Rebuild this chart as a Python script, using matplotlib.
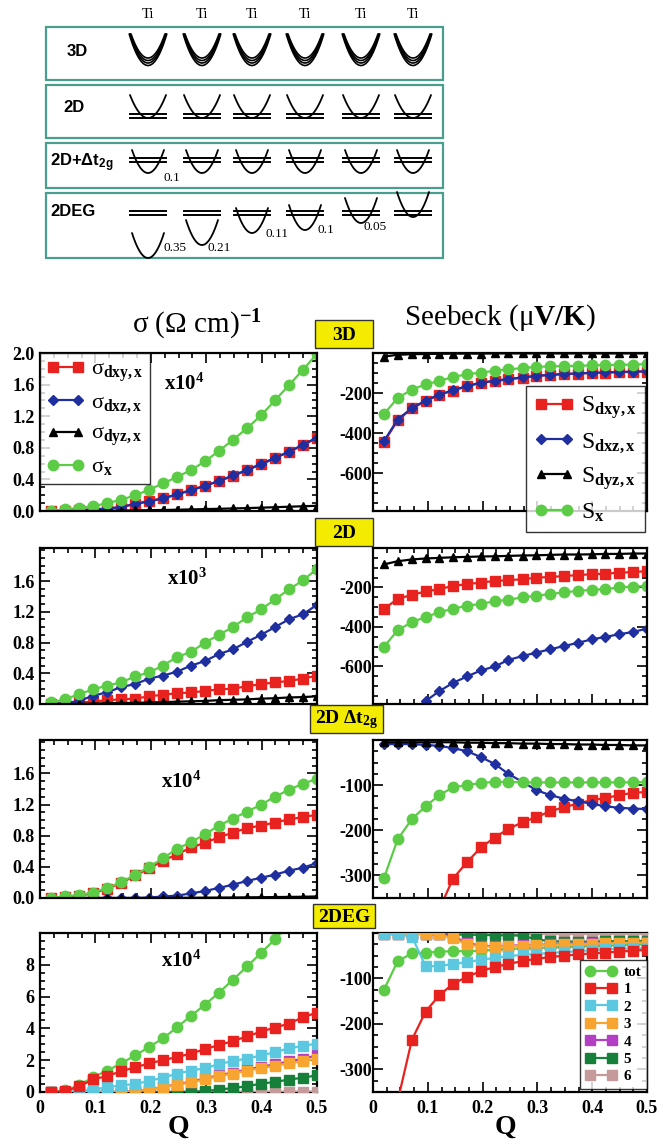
import numpy as np
import matplotlib
matplotlib.use('Agg')
import matplotlib.pyplot as plt
from matplotlib.patches import Rectangle
from matplotlib.ticker import MultipleLocator

plt.rcParams['font.family'] = ['Liberation Serif', 'DejaVu Serif']
plt.rcParams['mathtext.fontset'] = 'custom'
plt.rcParams['mathtext.rm'] = 'Liberation Serif'
plt.rcParams['mathtext.it'] = 'Liberation Serif:italic'
plt.rcParams['mathtext.bf'] = 'Liberation Serif:bold'
plt.rcParams['mathtext.sf'] = 'Liberation Sans:bold'

# ---------------- data ----------------
Q = [0.020, 0.045, 0.071, 0.096, 0.121, 0.146, 0.172, 0.197, 0.222, 0.247,
     0.273, 0.298, 0.323, 0.348, 0.374, 0.399, 0.424, 0.449, 0.475, 0.500]

# 3D conductivity (x1e4)
s3_dxy = [0.0, 0.0, 0.01, 0.02, 0.03, 0.05, 0.09, 0.13, 0.16, 0.21, 0.27, 0.32, 0.38, 0.44, 0.52, 0.60, 0.67, 0.75, 0.83, 0.93]
s3_dxz = [0.0, 0.0, 0.01, 0.02, 0.03, 0.05, 0.09, 0.12, 0.16, 0.21, 0.26, 0.32, 0.38, 0.45, 0.52, 0.59, 0.67, 0.75, 0.84, 0.93]
s3_dyz = [0.0, 0.0, 0.0, 0.0, 0.003, 0.005, 0.008, 0.01, 0.013, 0.016, 0.02, 0.024, 0.028, 0.032, 0.037, 0.042, 0.048, 0.054, 0.06, 0.066]
s3_x = [0.0, 0.02, 0.04, 0.06, 0.10, 0.14, 0.20, 0.27, 0.35, 0.43, 0.52, 0.63, 0.76, 0.90, 1.05, 1.21, 1.40, 1.59, 1.79, 1.99]
# 3D Seebeck
S3_dxy = [-447, -336, -277, -240, -209, -188, -166, -149, -140, -132, -123, -115, -110, -106, -103, -100, -98, -96, -94, -93]
S3_dxz = [-440, -333, -275, -238, -208, -186, -165, -148, -139, -130, -122, -114, -109, -105, -102, -99, -97, -95, -93, -92]
S3_dyz = [-18, -9, -6, -5, -4, -3, -3, -3, -2, -2, -2, -2, -2, -2, -2, -2, -2, -2, -2, -2]
S3_x = [-305, -225, -183, -157, -140, -120, -106, -98, -89, -81, -76, -69, -67, -65, -64, -62, -60, -59, -58, -55]

# 2D conductivity (x1e3)
s2_dxy = [0.0, 0.01, 0.02, 0.03, 0.05, 0.06, 0.07, 0.10, 0.12, 0.14, 0.15, 0.17, 0.19, 0.20, 0.23, 0.26, 0.28, 0.30, 0.33, 0.37]
s2_dxz = [0.0, 0.01, 0.04, 0.11, 0.15, 0.22, 0.26, 0.33, 0.37, 0.42, 0.50, 0.56, 0.65, 0.71, 0.81, 0.90, 1.00, 1.10, 1.17, 1.29]
s2_dyz = [0.0, 0.0, 0.0, 0.005, 0.01, 0.012, 0.015, 0.02, 0.025, 0.03, 0.035, 0.04, 0.05, 0.055, 0.06, 0.07, 0.075, 0.085, 0.09, 0.10]
s2_x = [0.02, 0.06, 0.13, 0.19, 0.24, 0.28, 0.36, 0.41, 0.50, 0.61, 0.68, 0.80, 0.90, 1.00, 1.13, 1.23, 1.36, 1.49, 1.61, 1.76]
# 2D Seebeck
S2_dxy = [-308, -258, -237, -220, -208, -192, -183, -175, -167, -163, -158, -150, -147, -142, -137, -133, -130, -125, -122, -117]
S2_dxz = [-2200, -1600, -1150, -775, -725, -683, -650, -620, -600, -567, -547, -530, -513, -497, -480, -463, -450, -437, -425, -408]
S2_dyz = [-83, -67, -58, -53, -50, -47, -45, -43, -42, -40, -38, -37, -35, -33, -33, -32, -30, -30, -28, -28]
S2_x = [-500, -417, -375, -350, -325, -308, -292, -283, -270, -262, -250, -242, -233, -225, -217, -212, -208, -200, -195, -192]

# 2D + delta t2g conductivity (x1e4)
sd_dxy = [0.0, 0.01, 0.03, 0.06, 0.12, 0.19, 0.29, 0.38, 0.48, 0.56, 0.65, 0.71, 0.78, 0.84, 0.90, 0.93, 0.97, 1.01, 1.04, 1.07]
sd_dxz = [0.0, 0.0, 0.0, 0.0, 0.0, 0.0, 0.0, 0.005, 0.02, 0.03, 0.06, 0.09, 0.13, 0.17, 0.22, 0.26, 0.30, 0.35, 0.39, 0.45]
sd_dyz = [0.0, 0.0, 0.0, 0.0, 0.0, 0.0, 0.0, 0.0, 0.0, 0.002, 0.003, 0.004, 0.005, 0.006, 0.008, 0.01, 0.012, 0.014, 0.016, 0.02]
sd_x = [0.0, 0.02, 0.04, 0.07, 0.13, 0.20, 0.30, 0.40, 0.51, 0.63, 0.72, 0.82, 0.93, 1.02, 1.11, 1.20, 1.30, 1.39, 1.47, 1.53]
# 2D + delta t2g Seebeck
Sd_dxy = [-1400, -1000, -700, -500, -375, -307, -270, -238, -216, -197, -182, -171, -158, -149, -141, -133, -129, -122, -117, -115]
Sd_dxz = [-9, -9, -9, -11, -13, -18, -25, -38, -53, -75, -93, -111, -122, -130, -136, -141, -147, -150, -152, -153]
Sd_dyz = [-5, -5, -5, -5, -5, -5, -6, -6, -7, -7, -8, -8, -9, -9, -10, -10, -11, -11, -12, -12]
Sd_x = [-306, -220, -175, -147, -122, -105, -100, -95, -93, -93, -94, -94, -94, -94, -94, -94, -94, -94, -94, -93]

# 2DEG conductivity (x1e4), per subband
sg_tot = [0.0, 0.1, 0.42, 0.95, 1.33, 1.8, 2.3, 2.84, 3.37, 4.06, 4.8, 5.5, 6.25, 7.05, 7.9, 8.75, 9.6, 10.5, 11.4, 12.3]
sg_1 = [0.0, 0.05, 0.35, 0.8, 1.0, 1.3, 1.55, 1.8, 2.0, 2.2, 2.42, 2.7, 2.95, 3.2, 3.5, 3.8, 4.05, 4.3, 4.7, 5.0]
sg_2 = [0.0, 0.0, 0.05, 0.15, 0.3, 0.42, 0.5, 0.7, 0.9, 1.15, 1.35, 1.5, 1.75, 1.95, 2.1, 2.3, 2.5, 2.75, 2.9, 3.05]
sg_3 = [0, 0, 0, 0, 0, 0, 0.05, 0.15, 0.3, 0.45, 0.6, 0.8, 1.0, 1.15, 1.35, 1.5, 1.65, 1.8, 1.95, 2.1]
sg_4 = [0, 0, 0, 0, 0, 0, 0.05, 0.15, 0.32, 0.48, 0.65, 0.85, 1.05, 1.22, 1.42, 1.58, 1.75, 1.92, 2.1, 2.3]
sg_5 = [0, 0, 0, 0, 0, 0, 0, 0, 0, 0, 0.02, 0.06, 0.15, 0.25, 0.36, 0.53, 0.63, 0.78, 0.9, 1.05]
sg_6 = [0, 0, 0, 0, 0, 0, 0, 0, 0, 0, 0, 0, 0, 0, 0, 0, 0.01, 0.01, 0.02, 0.02]
# 2DEG Seebeck
Sg_tot = [-125, -62, -45, -43, -41, -40, -40, -39, -37, -35, -34, -33, -32, -31, -30, -29, -28, -27, -26, -25]
Sg_1 = [-700, -370, -235, -173, -137, -112, -96, -84, -75, -68, -62, -57, -53, -50, -47, -45, -43, -41, -39, -37]
Sg_2 = [-3, -3, -8, -73, -73, -68, -64, -59, -55, -51, -48, -46, -44, -42, -40, -38, -36, -35, -34, -33]
Sg_3 = [-2, -2, -2, -2, -3, -12, -25, -30, -30, -29, -28, -27, -26, -25, -25, -24, -23, -22, -22, -21]
Sg_4 = [-2, -2, -2, -2, -3, -8, -22, -28, -29, -28, -27, -26, -25, -24, -24, -23, -22, -21, -21, -20]
Sg_5 = [-1, -1, -1, -2, -3, -3, -4, -4, -5, -5, -6, -14, -18, -19, -19, -19, -18, -18, -18, -17]
Sg_6 = [-2, -2, -2, -2, -2, -2, -2, -2, -2, -2, -2, -2, -2, -2, -2, -2, -2, -2, -2, -2]

# schematic: Ti sites and 2DEG subband depths
ti_labels = ['Ti', 'Ti', 'Ti', 'Ti', 'Ti', 'Ti']
row_names = ['3D', '2D', '2D+\u0394t$_{\\mathsf{2g}}$', '2DEG']
delta_labels = ['0.1']
deg_labels = ['0.35', '0.21', '0.11', '0.1', '0.05', '']
deg_depth_px = [45, 32, 20, 17, 10, 4]

panel_tags = ['3D', '2D', '2D \u0394t$_{\\mathbf{2g}}$', '2DEG']
scales = ['x10$^{\\mathbf{4}}$', 'x10$^{\\mathbf{3}}$', 'x10$^{\\mathbf{4}}$', 'x10$^{\\mathbf{4}}$']

# ---------------- styles ----------------
RED, BLUE, GREEN = '#e8221e', '#1f2fa0', '#5ccc47'
CYAN, ORANGE, MAG, DGREEN, BROWN = '#5bc8e0', '#f7a430', '#b23fc4', '#16803a', '#c49a9a'
sty = {
    'dxy': dict(marker='s', color=RED, ms=6.5, lw=1.6),
    'dxz': dict(marker='D', color=BLUE, ms=5.2, lw=1.6),
    'dyz': dict(marker='^', color='k', ms=6, lw=1.6),
    'x': dict(marker='o', color=GREEN, ms=7.5, lw=1.6),
}

fig = plt.figure(figsize=(6.6, 11.44), dpi=100)

W, H = 660.0, 1144.0
rows_px = [(353, 511), (548, 704), (740, 898), (933, 1092)]
lx, lw_ = 40, 277
rx, rw_ = 373, 274


def add(xp, wp, top, bot):
    return fig.add_axes([xp / W, 1 - bot / H, wp / W, (bot - top) / H])


def style(ax, ylim, yt, yl, ymin, pad, bottom):
    ax.set_xlim(0, 0.5)
    ax.set_ylim(*ylim)
    if bottom:
        ax.set_xticks([0, 0.1, 0.2, 0.3, 0.4, 0.5], ['0', '0.1', '0.2', '0.3', '0.4', '0.5'],
                      fontweight='bold', fontsize=13)
    else:
        ax.set_xticks([0, 0.1, 0.2, 0.3, 0.4, 0.5])
        ax.tick_params(labelbottom=False)
    ax.xaxis.set_minor_locator(MultipleLocator(0.025))
    ax.set_yticks(yt, yl, fontweight='bold', fontsize=13)
    ax.yaxis.set_minor_locator(MultipleLocator(ymin))
    ax.tick_params(which='both', direction='in', top=True, right=True, width=1.2)
    ax.tick_params(which='major', length=7)
    ax.tick_params(which='minor', length=3.5)
    ax.tick_params(axis='y', pad=pad)
    ax.tick_params(axis='x', pad=6)
    for sp in ax.spines.values():
        sp.set_linewidth(1.6)


def legend(ax, **kw):
    leg = ax.legend(numpoints=2, frameon=True, fancybox=False, edgecolor='k',
                    borderaxespad=0, **kw)
    leg.get_frame().set_linewidth(1.0)
    leg.set_zorder(20)
    return leg


left_sets = [(s3_dxy, s3_dxz, s3_dyz, s3_x), (s2_dxy, s2_dxz, s2_dyz, s2_x),
             (sd_dxy, sd_dxz, sd_dyz, sd_x)]
right_sets = [(S3_dxy, S3_dxz, S3_dyz, S3_x), (S2_dxy, S2_dxz, S2_dyz, S2_x),
              (Sd_dxy, Sd_dxz, Sd_dyz, Sd_x)]
scale_pos = [(0.52, 0.80), (0.53, 0.80), (0.51, 0.73), (0.51, 0.82)]

lt = [0, 0.4, 0.8, 1.2, 1.6]
ll = ['0.0', '0.4', '0.8', '1.2', '1.6']
axes_l, axes_r = [], []
for i in range(3):
    top, bot = rows_px[i]
    axl = add(lx, lw_, top, bot)
    axr = add(rx, rw_, top, bot)
    axes_l.append(axl)
    axes_r.append(axr)
    d = left_sets[i]
    names_l = ['\u03c3$_{\\mathbf{dxy,x}}$', '\u03c3$_{\\mathbf{dxz,x}}$',
               '\u03c3$_{\\mathbf{dyz,x}}$', '\u03c3$_{\\mathbf{x}}$']
    names_r = ['S$_{\\mathbf{dxy,x}}$', 'S$_{\\mathbf{dxz,x}}$',
               'S$_{\\mathbf{dyz,x}}$', 'S$_{\\mathbf{x}}$']
    for key, vals, nm in zip(['dxy', 'dxz', 'dyz', 'x'], d, names_l):
        axl.plot(Q, vals, label=nm, **sty[key])
    for key, vals, nm in zip(['dxy', 'dxz', 'dyz', 'x'], right_sets[i], names_r):
        axr.plot(Q, vals, label=nm, **sty[key])
    if i == 0:
        style(axl, (0, 2.0), lt + [2.0], ll + ['2.0'], 0.1, 4, False)
    else:
        style(axl, (0, 2.03), lt, ll, 0.1, 4, False)
    if i < 2:
        style(axr, (-790, 0), [-600, -400, -200], ['-600', '-400', '-200'], 50, 1, False)
    else:
        style(axr, (-350, 0), [-300, -200, -100], ['-300', '-200', '-100'], 25, 1, False)
    axl.text(*scale_pos[i], scales[i], transform=axl.transAxes, ha='center', va='center',
             fontsize=15, fontweight='bold')

legend(axes_l[0], loc='upper left', bbox_to_anchor=(0, 1), fontsize=16,
       handlelength=1.7, labelspacing=0.38, borderpad=0.3, handletextpad=0.3)
legend(axes_r[0], loc='upper right', bbox_to_anchor=(0.993, 0.79), fontsize=17,
       handlelength=1.7, labelspacing=0.42, borderpad=0.35, handletextpad=0.3)

# 2DEG row
top, bot = rows_px[3]
axl = add(lx, lw_, top, bot)
axr = add(rx, rw_, top, bot)
deg_l = [sg_tot, sg_1, sg_2, sg_3, sg_4, sg_5, sg_6]
deg_r = [Sg_tot, Sg_1, Sg_2, Sg_3, Sg_4, Sg_5, Sg_6]
deg_names = ['tot', '1', '2', '3', '4', '5', '6']
deg_cols = [GREEN, RED, CYAN, ORANGE, MAG, DGREEN, BROWN]
order = [6, 5, 4, 3, 2, 1, 0]
for ax, sets in ((axl, deg_l), (axr, deg_r)):
    for k in order:
        m = 'o' if k == 0 else 's'
        ax.plot(Q, sets[k], marker=m, color=deg_cols[k], ms=7.5 if k == 0 else 6.5,
                lw=1.6, label=deg_names[k], zorder=3 + (6 - k) * 0.1 if k else 2.5)
style(axl, (0, 10), [0, 2, 4, 6, 8], ['0', '2', '4', '6', '8'], 0.5, 4, True)
style(axr, (-350, 0), [-300, -200, -100], ['-300', '-200', '-100'], 25, 1, True)
axl.text(*scale_pos[3], scales[3], transform=axl.transAxes, ha='center', va='center',
         fontsize=15, fontweight='bold')
h, l = axr.get_legend_handles_labels()
hl = sorted(zip(h, l), key=lambda t: deg_names.index(t[1]))
leg = legend(axr, handles=[t[0] for t in hl], labels=[t[1] for t in hl],
             loc='upper right', bbox_to_anchor=(1.0, 0.83), handlelength=2.0,
             labelspacing=0.24, borderpad=0.35, handletextpad=0.5,
             prop=dict(family='Liberation Serif', weight='bold', size=11))

# ---------------- overlay (pixel coords) ----------------
ov = fig.add_axes([0, 0, 1, 1], zorder=30)
ov.set_xlim(0, W)
ov.set_ylim(H, 0)
ov.axis('off')

ov.text(197, 325, '\u03c3 (\u03a9 cm)$^{\\mathbf{-1}}$', ha='center', va='center', fontsize=21)
ov.text(500, 318, 'Seebeck (\u03bc$\\mathbf{V/K}$)', ha='center', va='center', fontsize=21)
ov.text(178, 1127, 'Q', ha='center', va='center', fontsize=20, fontweight='bold')
ov.text(505, 1127, 'Q', ha='center', va='center', fontsize=20, fontweight='bold')

tag_boxes = [(315, 320, 58, 28), (315, 518, 58, 28), (310, 705, 73, 28), (313, 904, 62, 24)]
for (x0, y0, bw, bh), tg in zip(tag_boxes, panel_tags):
    ov.add_patch(Rectangle((x0, y0), bw, bh, fc='#f3ec00', ec='#333333', lw=1.0))
    ov.text(x0 + bw / 2, y0 + bh / 2 + 1, tg, ha='center', va='center', fontsize=14,
            fontweight='bold')

# schematic
cols = [148, 202, 252, 305, 361, 413]
teal = '#4a9e8e'
boxes = [(26.5, 80), (85, 138), (142.5, 188), (192.5, 258)]
for t, b in boxes:
    ov.add_patch(Rectangle((45.5, t), 397.5, b - t, fill=False, ec=teal, lw=1.6))
for xc, tl in zip(cols, ti_labels):
    ov.text(xc, 15, tl, ha='center', va='center', fontsize=10.5)
row_lab_pos = [(77, 52, 'center'), (74, 107, 'center'), (50, 163, 'left'), (50, 211, 'left')]
for (xp, yp, ha), nm in zip(row_lab_pos, row_names):
    ov.text(xp, yp, nm, ha=ha, va='center', fontsize=12, fontweight='bold',
            family=['Liberation Sans', 'DejaVu Sans'])

u = np.linspace(-1, 1, 60)


def parab(xc, ybot, half, height, lw=1.3):
    ov.plot(xc + half * u, ybot - height * u ** 2, color='k', lw=lw, solid_capstyle='round')


def levels(xc, ys, half=18):
    for y in ys:
        ov.plot([xc - half, xc + half], [y, y], color='k', lw=1.4)


for xc in cols:
    for k, dy in enumerate([0, 2.5, 5, 7.5]):
        parab(xc, 58 + dy, 17 + k * 0.6, 24 + dy, lw=1.2)
    levels(xc, [114, 117.5])
    parab(xc, 118, 18, 23)
    levels(xc, [158, 162])
    parab(xc, 173, 16, 23)
    levels(xc, [211, 215])
for xc, dep in zip(cols, deg_depth_px):
    parab(xc, 213 + dep, 16, 25)
ov.text(163, 178, delta_labels[0], ha='left', va='center', fontsize=9.5)
deg_lab_pos = [(163, 248), (208, 248), (265, 234), (317, 230), (363, 227), (420, 225)]
for (xp, yp), t in zip(deg_lab_pos, deg_labels):
    ov.text(xp, yp, t, ha='left', va='center', fontsize=9.5)

fig.savefig('out.png', dpi=100)
